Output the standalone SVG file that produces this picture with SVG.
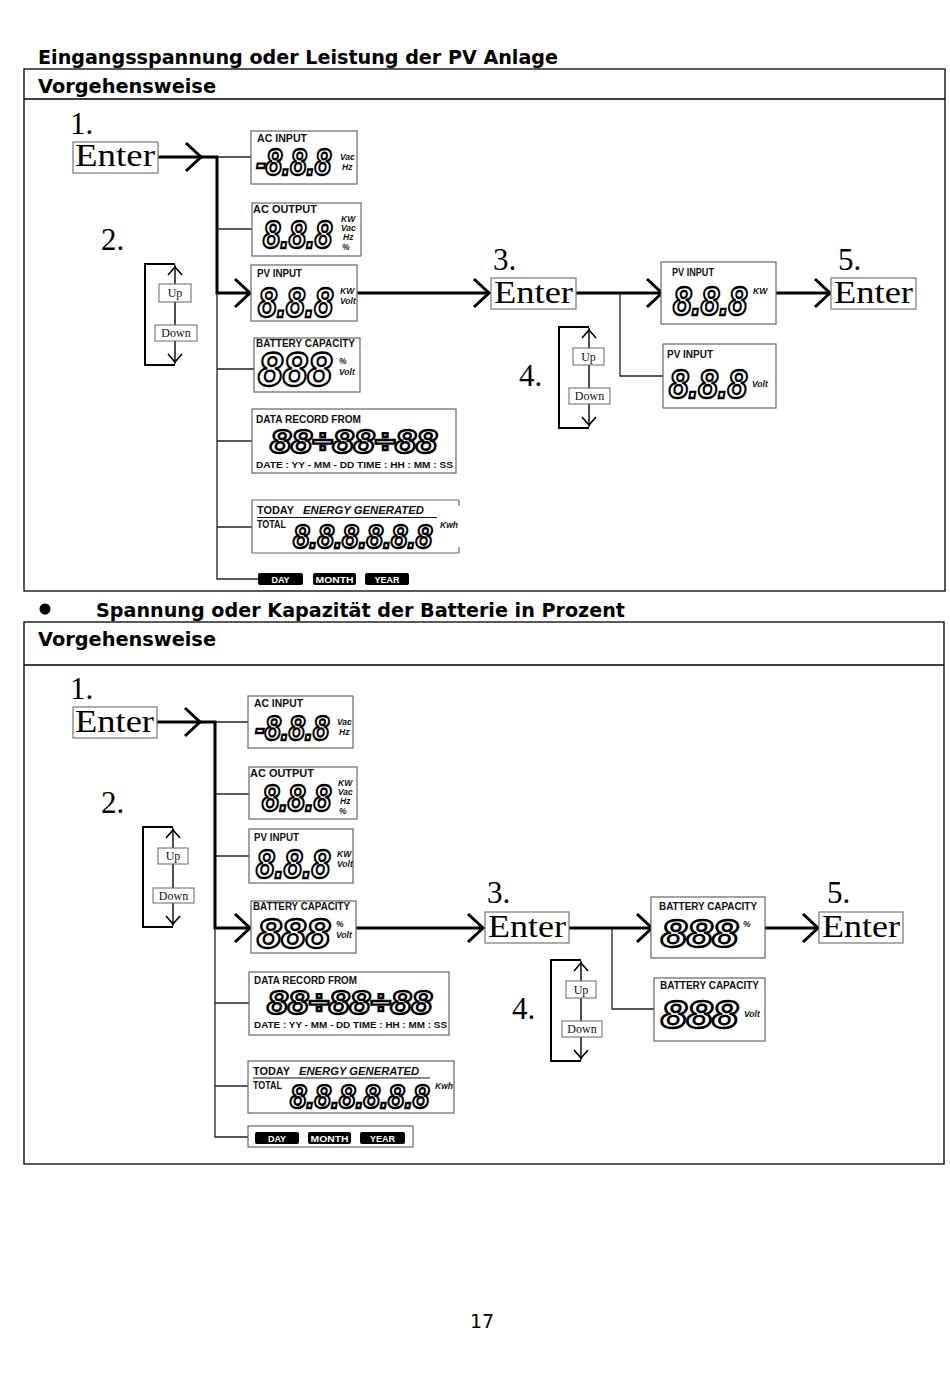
<svg xmlns="http://www.w3.org/2000/svg" xmlns:xlink="http://www.w3.org/1999/xlink" width="950" height="1374" viewBox="0 0 950 1374">
<style>
.title{font-family:"DejaVu Sans",Verdana,sans-serif;font-weight:bold;font-size:19px;fill:#000}
.frame{fill:none;stroke:#000;stroke-width:1.3}
.step{font-family:"Liberation Serif","Times New Roman",serif;font-size:31px;fill:#000}
.enterbox{fill:#fff;stroke:#777;stroke-width:1.2}
.lcd{fill:#fff;stroke:#666;stroke-width:1.2}
.lbl{font-family:"Liberation Sans",Arial,sans-serif;font-weight:bold;font-size:10px;fill:#111}
.unit{font-family:"Liberation Sans",Arial,sans-serif;font-weight:bold;font-style:italic;font-size:8.5px;fill:#111}
.seg{font-family:"Liberation Sans",Arial,sans-serif;font-style:italic;font-weight:bold;fill:#fff;stroke:#000;stroke-width:2.3;stroke-linejoin:miter}
.small{font-family:"Liberation Sans",Arial,sans-serif;font-weight:bold;font-size:9px;fill:#111}
.pill{fill:#000}
.pilltxt{font-family:"Liberation Sans",Arial,sans-serif;font-weight:bold;font-size:9px;fill:#fff}
.ud{fill:#fff;stroke:#666;stroke-width:1}
.udtxt{font-family:"Liberation Serif","Times New Roman",serif;font-size:12px;fill:#111}
.thick{fill:none;stroke:#000;stroke-width:3}
.thin{fill:none;stroke:#222;stroke-width:1.3}
.loop{fill:none;stroke:#000;stroke-width:2}
.mid{fill:none;stroke:#000;stroke-width:1.4}
</style>
<defs>
<path id="chevR" d="M-15,-14 L0,0 L-15,14" fill="none" stroke="#000" stroke-width="3"/>
<path id="chevU" d="M-7,8 L0,0 L7,8" fill="none" stroke="#000" stroke-width="1.6"/>
<path id="chevD" d="M-7,-8 L0,0 L7,-8" fill="none" stroke="#000" stroke-width="1.6"/>
</defs>

<!-- Page frames and titles -->
<g id="section1-frame">
<text class="title" x="38" y="64" textLength="520" lengthAdjust="spacingAndGlyphs">Eingangsspannung oder Leistung der PV Anlage</text>
<rect class="frame" x="24" y="69" width="921" height="522"/>
<line class="frame" x1="24" y1="99" x2="945" y2="99"/>
<text class="title" x="38" y="93" textLength="178" lengthAdjust="spacingAndGlyphs">Vorgehensweise</text>
</g>
<g id="section2-frame">
<circle cx="45" cy="609" r="5.5" fill="#000"/>
<text class="title" x="96" y="617" font-size="20" textLength="529" lengthAdjust="spacingAndGlyphs">Spannung oder Kapazität der Batterie in Prozent</text>
<rect class="frame" x="24" y="622" width="920" height="542"/>
<line class="frame" x1="24" y1="665" x2="944" y2="665"/>
<text class="title" x="38" y="646" textLength="178" lengthAdjust="spacingAndGlyphs">Vorgehensweise</text>
</g>
<text id="page-number" x="482" y="1328" text-anchor="middle" font-family="DejaVu Sans,Verdana,sans-serif" font-size="19">17</text>

<!-- ===== Connectors ===== -->
<g id="connectors">
<!-- top diagram -->
<path class="thick" d="M158,157 H217 V293 H249"/>
<path class="thin" d="M217,157 H251"/>
<path class="thin" d="M217,229 H252"/>
<path class="thin" d="M217,293 V579 H258"/>
<path class="thin" d="M217,369 H254"/>
<path class="thin" d="M217,441 H252"/>
<path class="thin" d="M217,527 H252"/>
<path class="thick" d="M357,293 H489"/>
<path class="thick" d="M576,293 H662"/>
<path class="thin" d="M620,293 V376 H663"/>
<path class="thick" d="M776,293 H830"/>
<use xlink:href="#chevR" x="201" y="157"/>
<use xlink:href="#chevR" x="250" y="293"/>
<use xlink:href="#chevR" x="489" y="293"/>
<use xlink:href="#chevR" x="662" y="293"/>
<use xlink:href="#chevR" x="830" y="293"/>
<!-- top up/down loops -->
<path class="loop" d="M175,264 H145 V365 H175"/>
<path class="mid" d="M175,265 V364"/>
<use xlink:href="#chevU" x="175" y="267"/>
<use xlink:href="#chevD" x="175" y="362"/>
<path class="loop" d="M589,327 H559 V428 H589"/>
<path class="mid" d="M589,328 V427"/>
<use xlink:href="#chevU" x="589" y="330"/>
<use xlink:href="#chevD" x="589" y="425"/>

<!-- bottom diagram -->
<path class="thick" d="M157,722 H215 V928 H250"/>
<path class="thin" d="M215,722 H248"/>
<path class="thin" d="M215,794 H249"/>
<path class="thin" d="M215,856 H249"/>
<path class="thin" d="M215,928 V1137 H249"/>
<path class="thin" d="M215,1003 H249"/>
<path class="thin" d="M215,1086 H248"/>
<path class="thick" d="M356,928 H483"/>
<path class="thick" d="M569,928 H652"/>
<path class="thin" d="M612,928 V1009 H654"/>
<path class="thick" d="M765,928 H818"/>
<use xlink:href="#chevR" x="200" y="722"/>
<use xlink:href="#chevR" x="250" y="928"/>
<use xlink:href="#chevR" x="483" y="928"/>
<use xlink:href="#chevR" x="652" y="928"/>
<use xlink:href="#chevR" x="818" y="928"/>
<path class="loop" d="M173,827 H143 V927 H173"/>
<path class="mid" d="M173,828 V926"/>
<use xlink:href="#chevU" x="173" y="830"/>
<use xlink:href="#chevD" x="173" y="924"/>
<path class="loop" d="M581,960 H551 V1061 H581"/>
<path class="mid" d="M581,961 V1060"/>
<use xlink:href="#chevU" x="581" y="963"/>
<use xlink:href="#chevD" x="581" y="1058"/>
</g>

<!-- ===== Top diagram nodes ===== -->
<g id="t-step1">
<text class="step" x="70" y="134">1.</text>
<rect class="enterbox" x="73" y="142" width="85" height="31"/>
<text class="step" x="75" y="166" textLength="80" lengthAdjust="spacingAndGlyphs">Enter</text>
</g>
<text id="t-step2" class="step" x="101" y="250">2.</text>
<g id="t-updown1">
<rect class="ud" x="159" y="284" width="32" height="18"/>
<text class="udtxt" x="175" y="297" text-anchor="middle">Up</text>
<rect class="ud" x="155" y="325" width="42" height="16"/>
<text class="udtxt" x="176" y="337" text-anchor="middle">Down</text>
</g>

<g id="t-acinput">
<rect class="lcd" x="251" y="131" width="106" height="53"/>
<text class="lbl" x="257" y="142" textLength="50" lengthAdjust="spacingAndGlyphs">AC INPUT</text>
<text class="seg" x="256" y="175" font-size="36" textLength="75" lengthAdjust="spacingAndGlyphs">-8.8.8</text>
<text class="unit" x="340" y="160">Vac</text>
<text class="unit" x="342" y="170">Hz</text>
</g>
<g id="t-acoutput">
<rect class="lcd" x="252" y="203" width="109" height="53"/>
<text class="lbl" x="253" y="213" textLength="64" lengthAdjust="spacingAndGlyphs">AC OUTPUT</text>
<text class="seg" x="263" y="248" font-size="38" textLength="69" lengthAdjust="spacingAndGlyphs">8.8.8</text>
<text class="unit" x="341" y="222">KW</text>
<text class="unit" x="341" y="231">Vac</text>
<text class="unit" x="343" y="240">Hz</text>
<text class="unit" x="342" y="250">%</text>
</g>
<g id="t-pvinput">
<rect class="lcd" x="251" y="265" width="106" height="56"/>
<text class="lbl" x="257" y="277" textLength="45" lengthAdjust="spacingAndGlyphs">PV INPUT</text>
<text class="seg" x="258" y="317" font-size="42" textLength="75" lengthAdjust="spacingAndGlyphs">8.8.8</text>
<text class="unit" x="340" y="294">KW</text>
<text class="unit" x="340" y="304">Volt</text>
</g>
<g id="t-battery">
<rect class="lcd" x="254" y="338" width="106" height="54"/>
<text class="lbl" x="256" y="347" textLength="99" lengthAdjust="spacingAndGlyphs">BATTERY  CAPACITY</text>
<text class="seg" x="258" y="386" font-size="48" textLength="74" lengthAdjust="spacingAndGlyphs">888</text>
<text class="unit" x="339" y="364" font-size="10">%</text>
<text class="unit" x="339" y="375">Volt</text>
</g>
<g id="t-datarecord">
<rect class="lcd" x="252" y="409" width="204" height="64"/>
<text class="lbl" x="256" y="423" textLength="105" lengthAdjust="spacingAndGlyphs">DATA RECORD FROM</text>
<text class="seg" x="270" y="453" font-size="34" textLength="167" lengthAdjust="spacingAndGlyphs">88÷88÷88</text>
<text class="small" x="256" y="468" textLength="197" lengthAdjust="spacingAndGlyphs">DATE : YY - MM - DD  TIME : HH : MM : SS</text>
</g>
<g id="t-energy">
<path class="lcd" d="M459,500 H252 V553 H459"/>
<line x1="459" y1="500" x2="459" y2="506" stroke="#666" stroke-width="1.2"/>
<line x1="459" y1="547" x2="459" y2="553" stroke="#666" stroke-width="1.2"/>
<text class="lbl" x="257" y="514" font-size="11" textLength="37" lengthAdjust="spacingAndGlyphs">TODAY</text>
<text class="lbl" x="303" y="514" font-size="11" font-style="italic" textLength="121" lengthAdjust="spacingAndGlyphs">ENERGY GENERATED</text>
<line x1="257" y1="517.5" x2="437" y2="517.5" stroke="#111" stroke-width="1.2"/>
<text class="lbl" x="257" y="528" textLength="29" lengthAdjust="spacingAndGlyphs">TOTAL</text>
<text class="seg" x="293" y="548" font-size="34" textLength="139" lengthAdjust="spacingAndGlyphs">8.8.8.8.8.8</text>
<text class="unit" x="440" y="528">Kwh</text>
</g>
<g id="t-daymonthyear">
<rect class="pill" x="258" y="573" width="45" height="12" rx="2"/>
<text class="pilltxt" x="280.5" y="582.5" text-anchor="middle">DAY</text>
<rect class="pill" x="313" y="573" width="43" height="12" rx="2"/>
<text class="pilltxt" x="334.5" y="582.5" text-anchor="middle" textLength="38" lengthAdjust="spacingAndGlyphs">MONTH</text>
<rect class="pill" x="365" y="573" width="44" height="12" rx="2"/>
<text class="pilltxt" x="387" y="582.5" text-anchor="middle">YEAR</text>
</g>

<g id="t-step3">
<text class="step" x="493" y="270">3.</text>
<rect class="enterbox" x="491" y="278" width="85" height="31"/>
<text class="step" x="494" y="303" textLength="79" lengthAdjust="spacingAndGlyphs">Enter</text>
</g>
<text id="t-step4" class="step" x="519" y="386">4.</text>
<g id="t-updown2">
<rect class="ud" x="573" y="348" width="31" height="17"/>
<text class="udtxt" x="588.5" y="361" text-anchor="middle">Up</text>
<rect class="ud" x="569" y="388" width="41" height="16"/>
<text class="udtxt" x="589.5" y="400" text-anchor="middle">Down</text>
</g>
<g id="t-pv-kw">
<rect class="lcd" x="661" y="262" width="115" height="62"/>
<text class="lbl" x="672" y="276" textLength="42" lengthAdjust="spacingAndGlyphs">PV INPUT</text>
<text class="seg" x="673" y="315" font-size="40" textLength="74" lengthAdjust="spacingAndGlyphs">8.8.8</text>
<text class="unit" x="753" y="294">KW</text>
</g>
<g id="t-pv-volt">
<rect class="lcd" x="663" y="344" width="113" height="64"/>
<text class="lbl" x="667" y="358" textLength="46" lengthAdjust="spacingAndGlyphs">PV INPUT</text>
<text class="seg" x="669" y="398" font-size="40" textLength="78" lengthAdjust="spacingAndGlyphs">8.8.8</text>
<text class="unit" x="752" y="387">Volt</text>
</g>
<g id="t-step5">
<text class="step" x="838" y="270">5.</text>
<rect class="enterbox" x="831" y="278" width="85" height="31"/>
<text class="step" x="834" y="303" textLength="79" lengthAdjust="spacingAndGlyphs">Enter</text>
</g>

<!-- ===== Bottom diagram nodes ===== -->
<g id="b-step1">
<text class="step" x="70" y="699">1.</text>
<rect class="enterbox" x="73" y="707" width="84" height="31"/>
<text class="step" x="75" y="732" textLength="79" lengthAdjust="spacingAndGlyphs">Enter</text>
</g>
<text id="b-step2" class="step" x="101" y="813">2.</text>
<g id="b-updown1">
<rect class="ud" x="158" y="848" width="30" height="16"/>
<text class="udtxt" x="173" y="860" text-anchor="middle">Up</text>
<rect class="ud" x="153" y="888" width="41" height="15"/>
<text class="udtxt" x="173.5" y="899.5" text-anchor="middle">Down</text>
</g>
<g id="b-acinput">
<rect class="lcd" x="248" y="696" width="105" height="52"/>
<text class="lbl" x="254" y="707" textLength="49" lengthAdjust="spacingAndGlyphs">AC INPUT</text>
<text class="seg" x="255" y="740" font-size="35" textLength="74" lengthAdjust="spacingAndGlyphs">-8.8.8</text>
<text class="unit" x="337" y="725">Vac</text>
<text class="unit" x="339" y="735">Hz</text>
</g>
<g id="b-acoutput">
<rect class="lcd" x="249" y="767" width="108" height="52"/>
<text class="lbl" x="250" y="777" textLength="64" lengthAdjust="spacingAndGlyphs">AC OUTPUT</text>
<text class="seg" x="262" y="811" font-size="36" textLength="69" lengthAdjust="spacingAndGlyphs">8.8.8</text>
<text class="unit" x="338" y="786">KW</text>
<text class="unit" x="338" y="795">Vac</text>
<text class="unit" x="340" y="804">Hz</text>
<text class="unit" x="339" y="814">%</text>
</g>
<g id="b-pvinput">
<rect class="lcd" x="249" y="829" width="104" height="54"/>
<text class="lbl" x="254" y="841" textLength="45" lengthAdjust="spacingAndGlyphs">PV INPUT</text>
<text class="seg" x="256" y="878" font-size="40" textLength="74" lengthAdjust="spacingAndGlyphs">8.8.8</text>
<text class="unit" x="337" y="857">KW</text>
<text class="unit" x="337" y="867">Volt</text>
</g>
<g id="b-battery">
<rect class="lcd" x="251" y="901" width="105" height="52"/>
<text class="lbl" x="253" y="910" textLength="97" lengthAdjust="spacingAndGlyphs">BATTERY  CAPACITY</text>
<text class="seg" x="257" y="948" font-size="42" textLength="73" lengthAdjust="spacingAndGlyphs">888</text>
<text class="unit" x="336" y="927" font-size="10">%</text>
<text class="unit" x="336" y="938">Volt</text>
</g>
<g id="b-datarecord">
<rect class="lcd" x="249" y="972" width="200" height="63"/>
<text class="lbl" x="254" y="984" textLength="103" lengthAdjust="spacingAndGlyphs">DATA RECORD FROM</text>
<text class="seg" x="267" y="1014" font-size="34" textLength="165" lengthAdjust="spacingAndGlyphs">88÷88÷88</text>
<text class="small" x="254" y="1028" textLength="193" lengthAdjust="spacingAndGlyphs">DATE : YY - MM - DD  TIME : HH : MM : SS</text>
</g>
<g id="b-energy">
<rect class="lcd" x="248" y="1061" width="206" height="52"/>
<text class="lbl" x="253" y="1075" font-size="11" textLength="37" lengthAdjust="spacingAndGlyphs">TODAY</text>
<text class="lbl" x="299" y="1075" font-size="11" font-style="italic" textLength="120" lengthAdjust="spacingAndGlyphs">ENERGY GENERATED</text>
<line x1="253" y1="1078" x2="430" y2="1078" stroke="#111" stroke-width="1.2"/>
<text class="lbl" x="253" y="1089" textLength="29" lengthAdjust="spacingAndGlyphs">TOTAL</text>
<text class="seg" x="290" y="1108" font-size="34" textLength="139" lengthAdjust="spacingAndGlyphs">8.8.8.8.8.8</text>
<text class="unit" x="435" y="1089">Kwh</text>
</g>
<g id="b-daymonthyear">
<rect class="lcd" x="248" y="1126" width="165" height="21"/>
<rect class="pill" x="255" y="1132" width="44" height="12" rx="2"/>
<text class="pilltxt" x="277" y="1141.5" text-anchor="middle">DAY</text>
<rect class="pill" x="308" y="1132" width="43" height="12" rx="2"/>
<text class="pilltxt" x="329.5" y="1141.5" text-anchor="middle" textLength="38" lengthAdjust="spacingAndGlyphs">MONTH</text>
<rect class="pill" x="360" y="1132" width="45" height="12" rx="2"/>
<text class="pilltxt" x="382.5" y="1141.5" text-anchor="middle">YEAR</text>
</g>

<g id="b-step3">
<text class="step" x="487" y="903">3.</text>
<rect class="enterbox" x="485" y="912" width="84" height="31"/>
<text class="step" x="488" y="937" textLength="78" lengthAdjust="spacingAndGlyphs">Enter</text>
</g>
<text id="b-step4" class="step" x="512" y="1019">4.</text>
<g id="b-updown2">
<rect class="ud" x="566" y="981" width="30" height="17"/>
<text class="udtxt" x="581" y="994" text-anchor="middle">Up</text>
<rect class="ud" x="562" y="1021" width="40" height="16"/>
<text class="udtxt" x="582" y="1033" text-anchor="middle">Down</text>
</g>
<g id="b-bat-pct">
<rect class="lcd" x="651" y="897" width="114" height="61"/>
<text class="lbl" x="659" y="910" textLength="98" lengthAdjust="spacingAndGlyphs">BATTERY  CAPACITY</text>
<text class="seg" x="661" y="947" font-size="38" textLength="77" lengthAdjust="spacingAndGlyphs">888</text>
<text class="unit" x="743" y="927" font-size="10">%</text>
</g>
<g id="b-bat-volt">
<rect class="lcd" x="654" y="978" width="111" height="63"/>
<text class="lbl" x="660" y="989" textLength="99" lengthAdjust="spacingAndGlyphs">BATTERY  CAPACITY</text>
<text class="seg" x="661" y="1028" font-size="38" textLength="77" lengthAdjust="spacingAndGlyphs">888</text>
<text class="unit" x="744" y="1017">Volt</text>
</g>
<g id="b-step5">
<text class="step" x="827" y="903">5.</text>
<rect class="enterbox" x="819" y="912" width="84" height="31"/>
<text class="step" x="822" y="937" textLength="78" lengthAdjust="spacingAndGlyphs">Enter</text>
</g>
</svg>
